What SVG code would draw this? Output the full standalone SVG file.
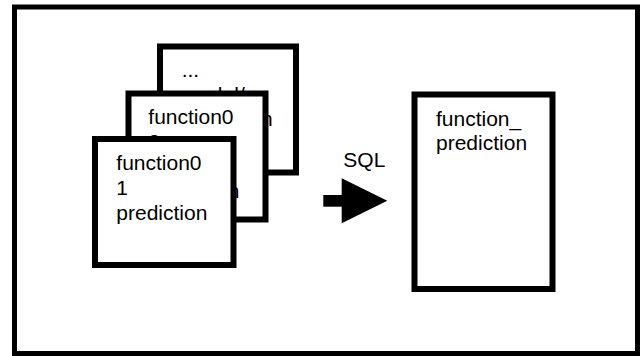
<svg xmlns="http://www.w3.org/2000/svg" width="641" height="356" viewBox="0 0 641 356">
  <style>
    .box { fill: #ffffff; stroke: #000000; stroke-width: 6; }
    .frame { fill: #ffffff; stroke: #000000; stroke-width: 5; }
    .lbl { font-family: "Liberation Sans", Arial, sans-serif; font-size: 21px; fill: #000000; }
  </style>
  <rect x="0" y="0" width="641" height="356" fill="#ffffff"/>
  <g id="frame">
    <rect class="frame" x="14.5" y="7" width="623" height="346.5"/>
  </g>
  <g id="node-back">
    <rect class="box" x="160" y="46.5" width="136" height="126"/>
    <text class="lbl" x="181.7" y="77.3">...</text>
    <text class="lbl" x="181.7" y="101.5">model/</text>
    <text class="lbl" x="181.7" y="125.5">prediction</text>
  </g>
  <g id="node-middle">
    <rect class="box" x="128.5" y="93.5" width="137" height="126"/>
    <text class="lbl" x="148.3" y="124.3">function0</text>
    <text class="lbl" x="148.3" y="148.6">2</text>
    <text class="lbl" x="148.3" y="198">prediction</text>
  </g>
  <g id="node-front">
    <rect class="box" x="95" y="139" width="138.5" height="126"/>
    <text class="lbl" x="116.3" y="170">function0</text>
    <text class="lbl" x="116.3" y="195">1</text>
    <text class="lbl" x="116.3" y="219.5">prediction</text>
  </g>
  <g id="node-result">
    <rect class="box" x="414.5" y="94.5" width="138" height="194.5" stroke-width="5.5"/>
    <text class="lbl" x="436" y="125.5">function_</text>
    <text class="lbl" x="436" y="149.5">prediction</text>
  </g>
  <g id="connectors">
    <text class="lbl" x="343.3" y="167.3">SQL</text>
    <rect x="323.3" y="195" width="20" height="11.7" fill="#000000"/>
    <polygon points="341.7,178.3 387.3,200.7 341.7,223.3" fill="#000000"/>
  </g>
</svg>
